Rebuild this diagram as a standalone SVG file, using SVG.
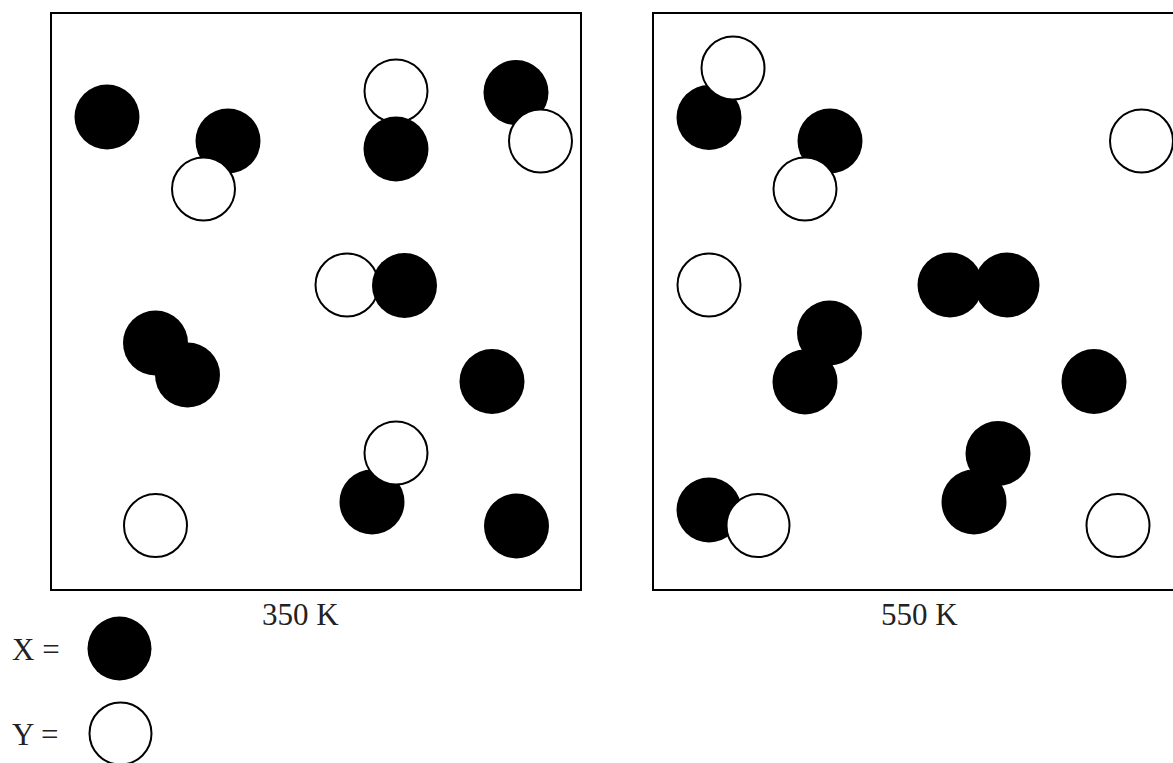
<svg xmlns="http://www.w3.org/2000/svg" width="1173" height="763" viewBox="0 0 1173 763">
<style>
.box{fill:none;stroke:#000;stroke-width:2}
.x{fill:#000}
.y{fill:#fff;stroke:#000;stroke-width:2}
.t{font-family:"Liberation Serif","Times New Roman",serif;font-size:31px;fill:#222}
</style>
<rect width="1173" height="763" fill="#fff"/>
<g id="panel-350K">
<rect class="box" x="51" y="13" width="530" height="577"/>
<circle class="x" cx="107" cy="117" r="32.5"/>
<circle class="x" cx="228" cy="141" r="32.5"/>
<circle class="y" cx="203.5" cy="189" r="31.5"/>
<circle class="y" cx="396" cy="91" r="31.5"/>
<circle class="x" cx="396" cy="149" r="32.5"/>
<circle class="x" cx="516" cy="92.5" r="32.5"/>
<circle class="y" cx="540.5" cy="141" r="31.5"/>
<circle class="y" cx="347" cy="285" r="31.5"/>
<circle class="x" cx="404.5" cy="285.5" r="32.5"/>
<circle class="x" cx="155.5" cy="343" r="32.5"/>
<circle class="x" cx="187.5" cy="375" r="32.5"/>
<circle class="x" cx="492" cy="381.5" r="32.5"/>
<circle class="x" cx="372" cy="502" r="32.5"/>
<circle class="y" cx="396" cy="453" r="31.5"/>
<circle class="y" cx="155.5" cy="525.5" r="31.5"/>
<circle class="x" cx="516.5" cy="526" r="32.5"/>
<text class="t" x="262" y="625">350 K</text>
</g>
<g id="panel-550K">
<rect class="box" x="653" y="13" width="540" height="577"/>
<circle class="x" cx="709" cy="117.5" r="32.5"/>
<circle class="y" cx="733" cy="68" r="31.5"/>
<circle class="x" cx="830" cy="141" r="32.5"/>
<circle class="y" cx="805" cy="189" r="31.5"/>
<circle class="y" cx="1141.5" cy="141" r="31.5"/>
<circle class="y" cx="709" cy="285" r="31.5"/>
<circle class="x" cx="950" cy="285" r="32.5"/>
<circle class="x" cx="1007" cy="285" r="32.5"/>
<circle class="x" cx="829.5" cy="333" r="32.5"/>
<circle class="x" cx="805" cy="382" r="32.5"/>
<circle class="x" cx="1094" cy="381.5" r="32.5"/>
<circle class="x" cx="998" cy="453.5" r="32.5"/>
<circle class="x" cx="974" cy="502" r="32.5"/>
<circle class="x" cx="709" cy="510" r="32.5"/>
<circle class="y" cx="758" cy="525.5" r="31.5"/>
<circle class="y" cx="1118" cy="525.5" r="31.5"/>
<text class="t" x="881" y="625">550 K</text>
</g>
<g id="legend-X">
<text class="t" x="12" y="660">X =</text>
<circle class="x" cx="119.5" cy="648.5" r="32"/>
</g>
<g id="legend-Y">
<text class="t" x="12" y="745">Y =</text>
<circle class="y" cx="120.5" cy="733.5" r="31"/>
</g>
<g id="connectors"/>
</svg>
